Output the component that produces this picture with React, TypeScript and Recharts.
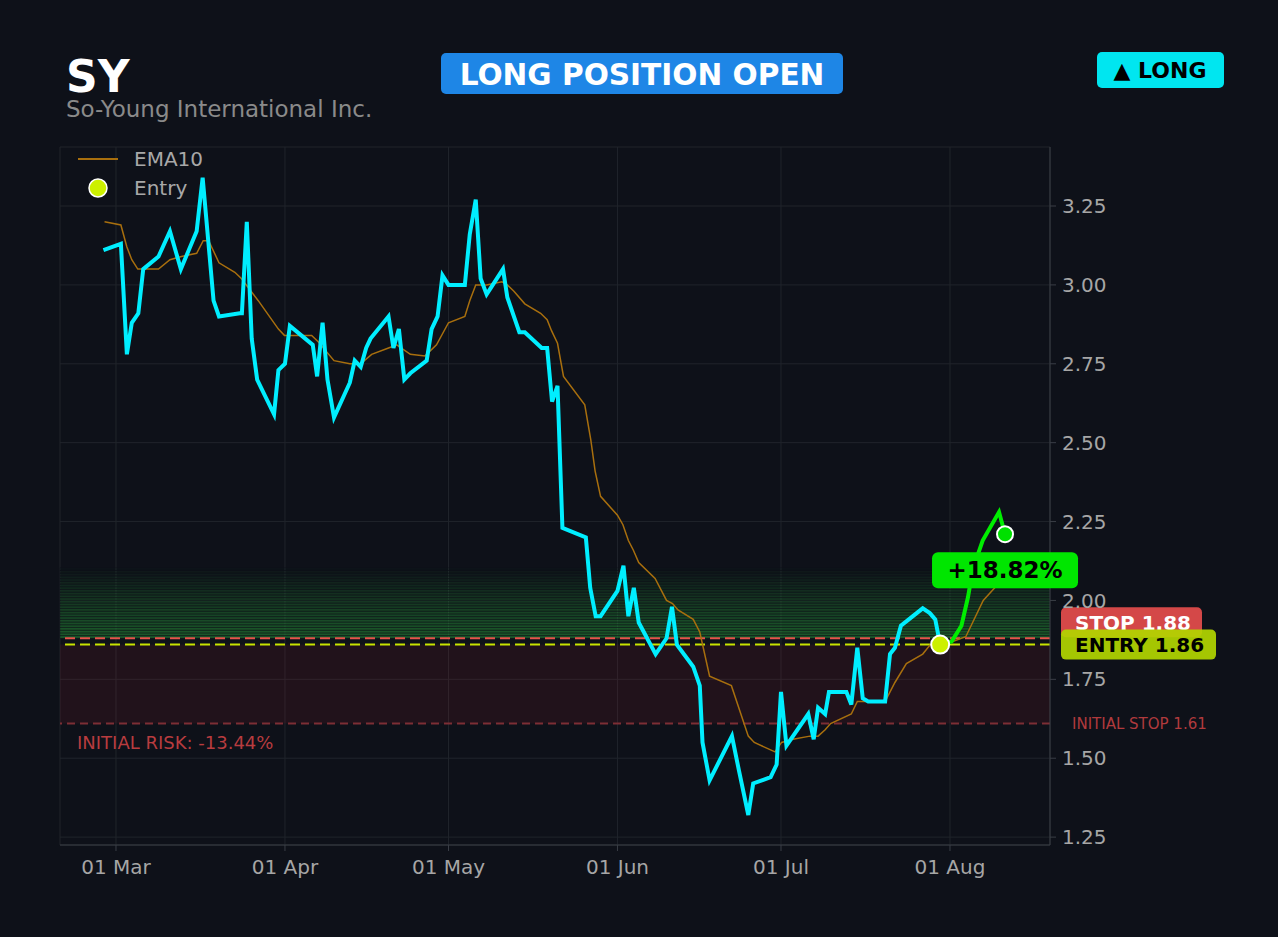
import React from "react";
import {
  LineChart,
  Line,
  XAxis,
  YAxis,
  CartesianGrid,
  ReferenceLine,
  ReferenceArea,
  ReferenceDot,
  Legend,
} from "recharts";

// days counted from 01 Mar (day 0)
const priceDays = [
  -2.3, 0.9, 2.0, 2.9, 4.1, 5.0, 7.8, 9.9, 11.9, 14.8, 15.9, 17.9, 18.9, 22.7, 23.1, 24.0, 24.9, 25.9, 29.0, 29.8,
  31.0, 31.9, 36.1, 36.9, 37.9, 38.8, 40.0, 42.9, 43.8, 44.9, 45.9, 46.7, 50.0, 50.9, 51.9, 52.9, 54.0, 57.0, 57.9,
  59.0, 59.9, 61.0, 64.0, 64.9, 66.0, 66.9, 68.0, 71.0, 71.8, 74.0, 75.0, 78.1, 79.1, 80.0, 81.0, 81.9, 86.2, 87.0,
  88.0, 88.9, 92.0, 93.1, 94.0, 95.0, 95.9, 99.0, 101.0, 102.0, 102.9, 105.9, 107.1, 107.6, 108.9, 113.0, 114.3,
  116.0, 116.9, 120.1, 121.2, 122.0, 123.0, 127.0, 128.0, 128.8, 130.1, 130.8, 134.0, 134.9, 136.0, 137.0, 138.0,
  141.1, 142.0, 142.9, 144.0, 148.0, 149.3, 150.3, 151.2,
];
const priceValues = [
  3.11, 3.13, 2.78, 2.88, 2.91, 3.05, 3.09, 3.17, 3.05, 3.17, 3.34, 2.95, 2.9, 2.91, 2.91, 3.2, 2.83, 2.7, 2.59, 2.73,
  2.75, 2.87, 2.81, 2.71, 2.88, 2.7, 2.58, 2.69, 2.76, 2.74, 2.8, 2.83, 2.9, 2.8, 2.86, 2.7, 2.72, 2.76, 2.86,
  2.9, 3.03, 3.0, 3.0, 3.16, 3.27, 3.02, 2.97, 3.05, 2.96, 2.85, 2.85, 2.8, 2.8, 2.63, 2.68, 2.23, 2.2, 2.04,
  1.95, 1.95, 2.03, 2.11, 1.95, 2.04, 1.93, 1.83, 1.88, 1.98, 1.86, 1.79, 1.73, 1.55, 1.43, 1.57, 1.46,
  1.32, 1.42, 1.44, 1.48, 1.71, 1.54, 1.64, 1.56, 1.66, 1.64, 1.71, 1.71, 1.67, 1.85, 1.69, 1.68,
  1.68, 1.83, 1.85, 1.92, 1.975, 1.96, 1.94, 1.86,
];

// since entry
const runDays = [151.2, 153.3, 155.1, 156.3, 157.2, 159.0, 162.0, 163.1];
const runValues = [1.86, 1.87, 1.92, 2.01, 2.1, 2.19, 2.28, 2.21];

const emaDays = [
  -2.1, 0.9, 2.0, 2.9, 4.0, 7.8, 9.9, 12.0, 14.8, 16.0, 17.0, 18.9, 21.8, 23.0, 26.1, 29.8, 30.9, 35.9, 37.1, 40.0,
  42.9, 44.9, 46.9, 50.0, 51.5, 54.0, 56.7, 58.8, 61.0, 64.0, 64.9, 66.0, 68.0, 70.8, 71.8, 73.0, 75.0, 77.9, 79.1,
  79.9, 81.0, 82.1, 86.0, 87.1, 87.9, 88.9, 92.0, 93.0, 94.0, 94.9, 95.9, 98.9, 101.0, 102.1, 103.1, 105.9, 107.1,
  108.9, 112.9, 116.0, 117.1, 120.9, 122.1, 124.2, 127.3, 128.8, 130.1, 131.1, 134.9, 136.0, 138.0, 141.1, 142.9,
  145.0, 148.0, 149.4, 151.2, 153.5, 155.9, 159.1, 162.8,
];
const emaValues = [
  3.2, 3.19, 3.12, 3.08, 3.05, 3.05, 3.08, 3.09, 3.1, 3.14, 3.14, 3.07, 3.04, 3.02, 2.95, 2.86, 2.84, 2.84, 2.82, 2.76,
  2.75, 2.75, 2.78, 2.8, 2.81, 2.78, 2.775, 2.81, 2.88, 2.9, 2.95, 3.0, 3.0, 3.01, 3.0, 2.98, 2.94, 2.91, 2.89,
  2.855, 2.815, 2.71, 2.62, 2.51, 2.41, 2.33, 2.27, 2.24, 2.19, 2.16, 2.12, 2.07, 2.0, 1.99, 1.97, 1.94, 1.9,
  1.76, 1.73, 1.57, 1.55, 1.52, 1.55, 1.56, 1.57, 1.57, 1.59, 1.61, 1.64, 1.68, 1.68, 1.68, 1.74,
  1.8, 1.83, 1.86, 1.86, 1.87, 1.885, 2.0, 2.07,
];

const monthTicks = [0, 31, 61, 92, 122, 153];
const monthLabels = ["01 Mar", "01 Apr", "01 May", "01 Jun", "01 Jul", "01 Aug"];
const priceTicks = [1.25, 1.5, 1.75, 2.0, 2.25, 2.5, 2.75, 3.0, 3.25];

const ticker = "SY";
const companyName = "So-Young International Inc.";
const statusText = "LONG POSITION OPEN";
const sideText = "▲ LONG";
const entryDay = 151.2;
const entryPrice = 1.86;
const stopPrice = 1.88;
const initialStop = 1.61;
const gainText = "+18.82%";
const riskText = "INITIAL RISK: -13.44%";

const FONT = "DejaVu Sans";
const BG = "#0e1119";

const priceData = priceDays.map((d, i) => ({ day: d, price: priceValues[i] }));
const runData = runDays.map((d, i) => ({ day: d, run: runValues[i] }));
const emaData = emaDays.map((d, i) => ({ day: d, ema: emaValues[i] }));

const lastDay = runDays[runDays.length - 1];
const lastValue = runValues[runValues.length - 1];

const glowCount = 26;
const glowStep = 0.0086;

const SideTag = (props: any) => {
  const { viewBox, text, fill, color, offsetY = 0, w, opacity = 1 } = props;
  if (!viewBox) return null;
  const x = viewBox.x + viewBox.width + 11;
  const cy = viewBox.y + offsetY;
  return (
    <g>
      <rect x={x} y={cy - 15} width={w} height={30} rx={5} fill={fill} fillOpacity={opacity} />
      <text x={x + 14} y={cy} dy="0.36em" fill={color} fontSize={20} fontWeight="bold" fontFamily={FONT}>
        {text}
      </text>
    </g>
  );
};

const InitialStopLabel = (props: any) => {
  const { viewBox } = props;
  if (!viewBox) return null;
  const right = viewBox.x + viewBox.width;
  return (
    <g fontFamily={FONT}>
      <text x={right + 22} y={viewBox.y} dy="0.36em" fill="#b03a3d" fontSize={15}>
        INITIAL STOP {initialStop.toFixed(2)}
      </text>
      <text x={viewBox.x + 17} y={viewBox.y + 25} fill="#b83c3f" fontSize={18}>
        {riskText}
      </text>
    </g>
  );
};

const GainBox = (props: any) => {
  const { cx, cy } = props;
  return (
    <g>
      <rect x={cx - 73} y={cy + 18} width={146} height={36} rx={6} fill="#00e600" />
      <text x={cx} y={cy + 36} dy="0.36em" textAnchor="middle" fill="#000" fontSize={23} fontWeight="bold" fontFamily={FONT}>
        {gainText}
      </text>
    </g>
  );
};

const LegendBox = () => (
  <div style={{ fontFamily: FONT, fontSize: 20, color: "#a8a8a8", textAlign: "left" }}>
    <div style={{ display: "flex", alignItems: "center", height: 26 }}>
      <svg width={62} height={20}>
        <line x1={6} y1={10} x2={46} y2={10} stroke="#a86f0e" strokeWidth={2} />
      </svg>
      <span>EMA10</span>
    </div>
    <div style={{ display: "flex", alignItems: "center", height: 32 }}>
      <svg width={62} height={24}>
        <circle cx={26} cy={12} r={9} fill="#ccf000" stroke="#fff" strokeWidth={1.5} />
      </svg>
      <span>Entry</span>
    </div>
  </div>
);

export default function App() {
  return (
    <div style={{ position: "absolute", left: 0, top: 0, width: 1278, height: 937, background: BG, overflow: "hidden" }}>
      <svg width={1278} height={140} style={{ position: "absolute", left: 0, top: 0, zIndex: 2 }}>
        <text x={66} y={92} fill="#fff" fontSize={44} fontWeight="bold" fontFamily={FONT}>
          {ticker}
        </text>
        <text x={66} y={117} fill="#8a8a8a" fontSize={23} fontFamily={FONT}>
          {companyName}
        </text>
        <rect x={441} y={53} width={402} height={41} rx={5} fill="#1e86e6" />
        <text x={642} y={74} dy="0.36em" textAnchor="middle" fill="#fff" fontSize={29.6} fontWeight="bold" fontFamily={FONT}>
          {statusText}
        </text>
        <rect x={1097} y={52} width={127} height={36} rx={5} fill="#00e6f0" />
        <text x={1160} y={70} dy="0.36em" textAnchor="middle" fill="#000" fontSize={22} fontWeight="bold" fontFamily={FONT}>
          {sideText}
        </text>
      </svg>
      <LineChart
        width={1278}
        height={937}
        margin={{ top: 147, right: 0, bottom: 52, left: 60 }}
        style={{ position: "absolute", left: 0, top: 0 }}
      >
        <CartesianGrid stroke="#20242b" strokeWidth={1} />
        <XAxis
          dataKey="day"
          type="number"
          domain={[-10.27, 171.35]}
          allowDataOverflow
          ticks={monthTicks}
          tickFormatter={(v: number) => monthLabels[monthTicks.indexOf(v)]}
          height={40}
          stroke="#3a3e46"
          tick={{ fill: "#a6a6a6", fontSize: 20, fontFamily: FONT }}
          tickSize={6}
          tickMargin={9}
        />
        <YAxis
          orientation="right"
          type="number"
          domain={[1.225, 3.437]}
          allowDataOverflow
          ticks={priceTicks}
          tickFormatter={(v: number) => v.toFixed(2)}
          width={228}
          stroke="#3a3e46"
          tick={{ fill: "#a6a6a6", fontSize: 20, fontFamily: FONT }}
          tickSize={6}
          tickMargin={6}
        />
        {Array.from({ length: glowCount }, (_, i) => (
          <ReferenceArea
            key={"g" + i}
            y1={stopPrice + i * glowStep}
            y2={stopPrice + (i + 1) * glowStep}
            fill="#2aa23c"
            fillOpacity={0.5 * Math.pow(1 - i / glowCount, 0.9)}
            stroke={BG}
            strokeOpacity={0.55}
            strokeWidth={0.9}
          />
        ))}
        <ReferenceArea y1={initialStop} y2={entryPrice} fill="#b0202e" fillOpacity={0.12} stroke="none" />
        <ReferenceLine
          y={initialStop}
          stroke="#7d2e35"
          strokeWidth={2}
          strokeDasharray="8 5"
          label={<InitialStopLabel />}
        />
        <ReferenceLine
          y={stopPrice}
          stroke="#e5534b"
          strokeWidth={2}
          strokeDasharray="10 5"
          label={<SideTag text={`STOP ${stopPrice.toFixed(2)}`} fill="#d44848" color="#fff" w={141} offsetY={-16} />}
        />
        <ReferenceLine
          y={entryPrice}
          stroke="#c8e400"
          strokeWidth={2}
          strokeDasharray="10 5"
          label={<SideTag text={`ENTRY ${entryPrice.toFixed(2)}`} fill="#b2d600" color="#000" w={155} opacity={0.92} />}
        />
        <Line data={emaData} dataKey="ema" type="linear" stroke="#a86f0e" strokeWidth={1.5} dot={false} isAnimationActive={false} />
        <Line data={priceData} dataKey="price" type="linear" stroke="#00eeff" strokeWidth={4} dot={false} isAnimationActive={false} />
        <Line data={runData} dataKey="run" type="linear" stroke="#00ee00" strokeWidth={4} dot={false} isAnimationActive={false} />
        <ReferenceDot x={lastDay} y={lastValue} shape={<GainBox />} />
        <ReferenceDot x={entryDay} y={entryPrice} r={9} fill="#ccf000" stroke="#fff" strokeWidth={2} />
        <ReferenceDot x={lastDay} y={lastValue} r={8} fill="#00e000" stroke="#fff" strokeWidth={2} />
        <Legend
          verticalAlign="middle"
          align="center"
          layout="horizontal"
          wrapperStyle={{ top: 146, left: 72, width: 220, height: 60 }}
          content={() => <LegendBox />}
        />
      </LineChart>
    </div>
  );
}
